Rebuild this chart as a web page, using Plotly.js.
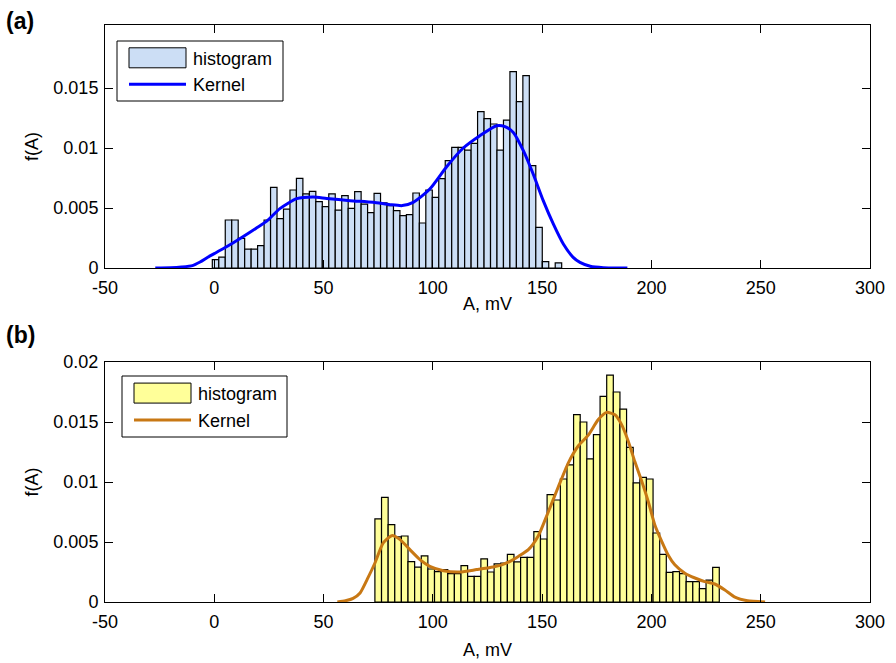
<!DOCTYPE html>
<html><head><meta charset="utf-8">
<script src="https://cdn.plot.ly/plotly-3.0.1.min.js"></script>
<style>html,body{margin:0;padding:0;background:#fff;}#chart{width:896px;height:663px;}</style>
</head><body><div id="chart"></div>
<script>
// ---------- data ----------
const xTicks = [-50, 0, 50, 100, 150, 200, 250, 300];
const xTickText = ['-50', '0', '50', '100', '150', '200', '250', '300'];
const yTicksA = [0, 0.005, 0.01, 0.015];
const yTicksB = [0, 0.005, 0.01, 0.015, 0.02];

// panel (a) histogram: first bin centre and bin width (mV), bin heights
const binStartA = 0.58;
const binWidthA = 2.96;
const histA = [0.0007, 0.0009, 0.0040, 0.0040, 0.00247, 0.00158, 0.00158, 0.00186, 0.0040, 0.00672,
  0.00411, 0.0049, 0.0065, 0.00747, 0.00617, 0.00639, 0.00553, 0.00511, 0.00617, 0.00483,
  0.00603, 0.00497, 0.00636, 0.00533, 0.00461, 0.00622, 0.00542, 0.0052, 0.00478, 0.00436,
  0.00444, 0.00625, 0.00375, 0.0065, 0.00589, 0.00744, 0.00894, 0.01006, 0.01006, 0.00983,
  0.01039, 0.01303, 0.01244, 0.0120, 0.00983, 0.01233, 0.01636, 0.01386, 0.01603, 0.00853,
  0.00339, 0.00053, 0, 0.00042];
const kernelAx = [-27, -20, -15, -10, -6.5, -3, 0, 4, 8.7, 14, 19, 24, 30, 37.7, 45.3, 51.4, 62.1, 72.7,
  80.4, 86, 91, 98.6, 106.3, 113.9, 121.5, 129.2, 133, 136.8, 141.4, 145.9, 150.5, 155.1, 159.7,
  164.2, 167.3, 172, 178, 189];
const kernelAy = [0, 0.00002, 0.00008, 0.0002, 0.0005, 0.0009, 0.0012, 0.0016, 0.0021, 0.0027, 0.0033,
  0.0039, 0.00495, 0.00578, 0.00592, 0.0058, 0.00561, 0.00547, 0.00528, 0.0052, 0.00547, 0.00658,
  0.00844, 0.0100, 0.01103, 0.01186, 0.01178, 0.0113, 0.00978, 0.00783, 0.00561, 0.00367, 0.0020,
  0.00089, 0.00047, 0.00015, 0.00003, 0];

// panel (b)
const binStartB = 75.0;
const binWidthB = 3.03;
const histB = [0.00692, 0.00872, 0.00644, 0.00542, 0.0055, 0.00336, 0.0029, 0.00385, 0.00275, 0.00253,
  0.0027, 0.00236, 0.00236, 0.00303, 0.00214, 0.00214, 0.0036, 0.0025, 0.00317, 0.00325,
  0.00397, 0.00335, 0.00372, 0.00372, 0.00586, 0.00525, 0.00894, 0.0085, 0.01025, 0.01143,
  0.01561, 0.0150, 0.01193, 0.01394, 0.01714, 0.0189, 0.0175, 0.01608, 0.01289, 0.00992,
  0.01039, 0.01025, 0.00575, 0.00397, 0.00247, 0.00253, 0.00236, 0.0017, 0.0017, 0.00111,
  0.00183, 0.00289];
const kernelBx = [56.3, 60, 63.5, 66.7, 70, 73.5, 77.3, 81.2, 85, 89.5, 94.1, 98.6, 104.8, 112.4, 120,
  127.6, 131.5, 135.3, 139.1, 143.7, 148.2, 152.8, 157.4, 162, 166.5, 171.1, 175.7, 179.5, 183.3,
  186.3, 189.4, 192.4, 195.5, 198.5, 201.6, 204.6, 207.7, 210.7, 215.3, 219.9, 224.4, 229, 233.6,
  238.2, 244, 252];
const kernelBy = [0, 0.0001, 0.0003, 0.00075, 0.0019, 0.00325, 0.00492, 0.00553, 0.0052, 0.00436,
  0.00353, 0.00297, 0.00261, 0.0025, 0.0027, 0.00292, 0.0031, 0.00339, 0.0038, 0.00436, 0.0055,
  0.0075, 0.0096, 0.0116, 0.0130, 0.0139, 0.0152, 0.0158, 0.0156, 0.0148, 0.0134, 0.0117, 0.0101,
  0.0084, 0.0064, 0.0051, 0.0039, 0.0031, 0.0024, 0.0020, 0.0017, 0.0015, 0.0010, 0.0004, 0.0001, 0];

const legendLabels = ['histogram', 'Kernel'];
const panelLabels = ['(a)', '(b)'];
const xTitle = 'A, mV';
const yTitle = 'f(A)';

// ---------- styles ----------
const W = 896, H = 663;
const FONT = 'Liberation Sans, Arial, sans-serif';
const colA = {fill: 'rgb(204,222,245)', line: '#0000ff'};
const colB = {fill: 'rgb(255,255,153)', line: '#c87814'};
const px = v => v / W;
const py = v => 1 - v / H;

const traces = [
  {type: 'bar', x0: binStartA, dx: binWidthA, y: histA, width: binWidthA, xaxis: 'x', yaxis: 'y',
   marker: {color: colA.fill, line: {color: '#000', width: 1.2}}, hoverinfo: 'skip'},
  {type: 'scatter', mode: 'lines', x: kernelAx, y: kernelAy, xaxis: 'x', yaxis: 'y',
   line: {color: colA.line, width: 3, shape: 'spline', smoothing: 0.6}, hoverinfo: 'skip'},
  {type: 'bar', x0: binStartB, dx: binWidthB, y: histB, width: binWidthB, xaxis: 'x2', yaxis: 'y2',
   marker: {color: colB.fill, line: {color: '#000', width: 1.2}}, hoverinfo: 'skip'},
  {type: 'scatter', mode: 'lines', x: kernelBx, y: kernelBy, xaxis: 'x2', yaxis: 'y2',
   line: {color: colB.line, width: 3, shape: 'spline', smoothing: 0.6}, hoverinfo: 'skip'}
];

function xAxis(anchor, dom, standoff) {
  return {domain: dom, anchor: anchor, range: [-50, 300], tickmode: 'array', tickvals: xTicks, ticktext: xTickText,
    ticks: 'inside', ticklen: 8, tickcolor: '#000', tickwidth: 1, showline: true, linecolor: '#000',
    linewidth: 1, mirror: 'ticks', showgrid: false, zeroline: false, automargin: false,
    ticklabelstandoff: 3,
    tickfont: {family: FONT, size: 18, color: '#000'},
    title: {text: xTitle, font: {family: FONT, size: 18, color: '#000'}, standoff: standoff}};
}
function yAxis(anchor, dom, range, vals) {
  return {domain: dom, anchor: anchor, range: range, tickmode: 'array', tickvals: vals,
    ticks: 'inside', ticklen: 8, tickcolor: '#000', tickwidth: 1, showline: true, linecolor: '#000',
    linewidth: 1, mirror: 'ticks', showgrid: false, zeroline: false, automargin: false,
    ticklabelstandoff: 2,
    tickfont: {family: FONT, size: 18, color: '#000'},
    title: {text: yTitle, font: {family: FONT, size: 18, color: '#000'}, standoff: 10}};
}

const xDom = [px(105), px(870)];
function legendParts(box, patchFill, lineCol) {
  // box = [left, top, right, bottom] in pixels
  const [l, t, r, b] = box;
  const h = b - t;
  const sx0 = l + 12, sx1 = l + 69;
  const row1 = t + h * 0.28, row2 = t + h * 0.72;
  const shapes = [
    {type: 'rect', xref: 'paper', yref: 'paper', x0: px(l), x1: px(r), y0: py(b), y1: py(t),
     line: {color: '#000', width: 1}, fillcolor: '#fff', layer: 'above'},
    {type: 'rect', xref: 'paper', yref: 'paper', x0: px(sx0), x1: px(sx1), y0: py(row1 + 10), y1: py(row1 - 10),
     line: {color: '#000', width: 1}, fillcolor: patchFill, layer: 'above'},
    {type: 'line', xref: 'paper', yref: 'paper', x0: px(sx0), x1: px(sx1), y0: py(row2), y1: py(row2),
     line: {color: lineCol, width: 3}, layer: 'above'}
  ];
  const ann = [
    {xref: 'paper', yref: 'paper', x: px(sx1 + 5), y: py(row1 + 1), text: legendLabels[0], showarrow: false,
     xanchor: 'left', yanchor: 'middle', font: {family: FONT, size: 18, color: '#000'}},
    {xref: 'paper', yref: 'paper', x: px(sx1 + 5), y: py(row2 + 1), text: legendLabels[1], showarrow: false,
     xanchor: 'left', yanchor: 'middle', font: {family: FONT, size: 18, color: '#000'}}
  ];
  return {shapes, ann};
}
const legA = legendParts([117, 41, 283, 101], colA.fill, colA.line);
const legB = legendParts([122, 376, 287, 437], colB.fill, colB.line);

const layout = {
  width: W, height: H, margin: {l: 0, r: 0, t: 0, b: 0}, paper_bgcolor: '#fff', plot_bgcolor: '#fff',
  showlegend: false, bargap: 0, font: {family: FONT, color: '#000'},
  xaxis: xAxis('y', xDom, 0),
  yaxis: yAxis('x', [py(268), py(25)], [0, 0.02025], yTicksA),
  xaxis2: xAxis('y2', xDom, 12),
  yaxis2: yAxis('x2', [py(602), py(362)], [0, 0.02], yTicksB),
  shapes: legA.shapes.concat(legB.shapes),
  annotations: legA.ann.concat(legB.ann).concat([
    {xref: 'paper', yref: 'paper', x: px(4), y: py(21), text: '<b>' + panelLabels[0] + '</b>', showarrow: false,
     xanchor: 'left', yanchor: 'middle', font: {family: FONT, size: 23, color: '#000'}},
    {xref: 'paper', yref: 'paper', x: px(4), y: py(335), text: '<b>' + panelLabels[1] + '</b>', showarrow: false,
     xanchor: 'left', yanchor: 'middle', font: {family: FONT, size: 23, color: '#000'}}
  ])
};

Plotly.newPlot('chart', traces, layout, {staticPlot: true, displayModeBar: false});
</script>
</body></html>
